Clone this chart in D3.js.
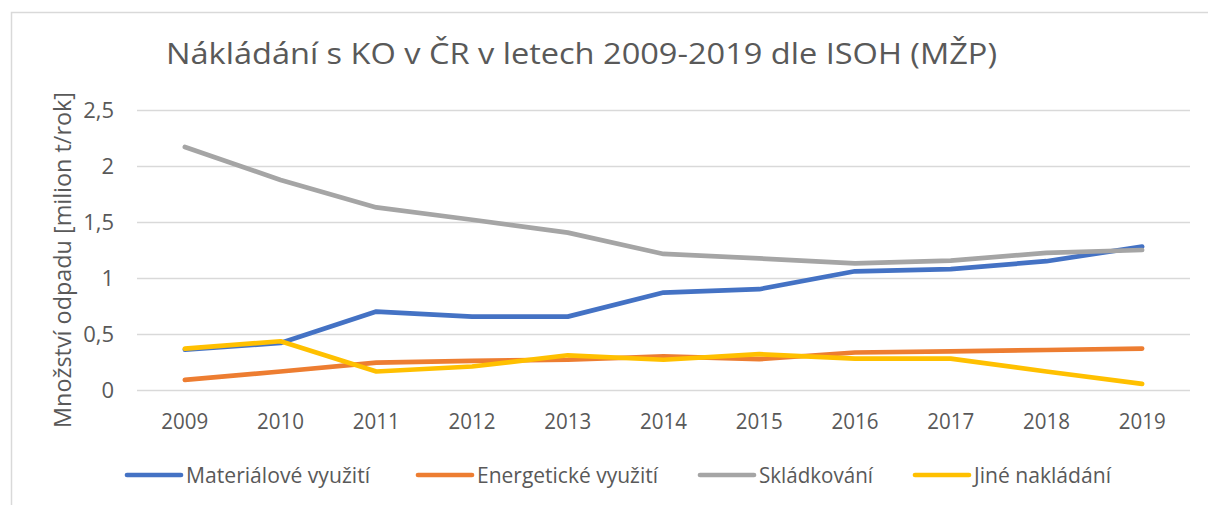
<!DOCTYPE html>
<html>
<head>
<meta charset="utf-8">
<script src="https://cdn.jsdelivr.net/npm/d3@7"></script>
<style>
  html, body { margin: 0; padding: 0; background: #fff; }
  svg { display: block; }
  text { font-family: "Open Sans", "Noto Sans", sans-serif; fill: #595959; }
</style>
</head>
<body>
<div id="chart"></div>
<script>
// data (million t / year)
const years = ['2009', '2010', '2011', '2012', '2013', '2014', '2015', '2016', '2017', '2018', '2019'];
const material = [0.36, 0.42, 0.70, 0.655, 0.655, 0.87, 0.90, 1.06, 1.08, 1.15, 1.28];
const energy = [0.09, 0.165, 0.245, 0.26, 0.27, 0.30, 0.275, 0.335, 0.345, 0.357, 0.37];
const landfill = [2.17, 1.875, 1.63, 1.52, 1.405, 1.215, 1.175, 1.13, 1.155, 1.225, 1.25];
const other = [0.37, 0.435, 0.165, 0.21, 0.31, 0.27, 0.32, 0.28, 0.28, 0.165, 0.055];

const seriesNames = ['Materiálové využití', 'Energetické využití', 'Skládkování', 'Jiné nakládání'];
const seriesColors = ['#4472C4', '#ED7D31', '#A5A5A5', '#FFC000'];
const yTicks = [0, 0.5, 1, 1.5, 2, 2.5];

const titleText = 'Nákládání s KO v ČR v letech 2009-2019 dle ISOH (MŽP)';
const yTitleText = 'Množství odpadu [milion t/rok]';

function drawChart() {
  const width = 1208;
  const height = 505;
  const plot = { left: 137, right: 1190, top: 110, bottom: 390 };

  const series = [material, energy, landfill, other].map((vals, i) => ({
    name: seriesNames[i],
    color: seriesColors[i],
    values: vals.map((v, j) => ({ year: years[j], value: v }))
  }));

  const czLocale = d3.formatLocale({ decimal: ',', thousands: ' ', grouping: [3], currency: ['', ' Kč'] });
  const fmt = czLocale.format('~g');

  // bring a text to the width it has in the reference (Calibri metrics differ)
  function fit(sel, w) {
    sel.each(function () {
      d3.select(this).attr('textLength', w).attr('lengthAdjust', 'spacingAndGlyphs');
    });
  }

  const svg = d3.select('#chart')
    .append('svg')
    .attr('width', width)
    .attr('height', height);

  // chart area border
  svg.append('rect')
    .attr('x', 11.5)
    .attr('y', 12.5)
    .attr('width', width + 20)
    .attr('height', height + 20)
    .attr('fill', '#fff')
    .attr('stroke', '#D9D9D9')
    .attr('stroke-width', 1.5);

  const x = d3.scaleBand()
    .domain(years)
    .range([plot.left, plot.right]);

  const y = d3.scaleLinear()
    .domain([0, 2.5])
    .range([plot.bottom, plot.top]);

  // title
  svg.append('text')
    .attr('x', 166)
    .attr('y', 64)
    .style('font-size', '30px')
    .text(titleText)
    .call(fit, 831);

  // y axis with gridlines
  const yAxis = svg.append('g')
    .attr('transform', `translate(${plot.left},0)`)
    .call(d3.axisLeft(y)
      .tickValues(yTicks)
      .tickFormat(fmt)
      .tickSizeInner(-(plot.right - plot.left))
      .tickSizeOuter(0)
      .tickPadding(23));
  yAxis.select('.domain').remove();
  yAxis.selectAll('.tick line')
    .attr('stroke', '#D9D9D9')
    .attr('stroke-width', 1.5);
  yAxis.selectAll('.tick text')
    .style('font-family', '"Open Sans", sans-serif')
    .style('font-size', '22px')
    .attr('fill', '#595959');

  // x axis
  const xAxis = svg.append('g')
    .attr('transform', `translate(0,${plot.bottom})`)
    .call(d3.axisBottom(x).tickSize(0).tickPadding(23));
  xAxis.select('.domain').remove();
  xAxis.selectAll('.tick text')
    .style('font-family', '"Open Sans", sans-serif')
    .style('font-size', '22px')
    .attr('fill', '#595959')
    .call(fit, 47);

  // y axis title
  svg.append('text')
    .attr('transform', 'translate(71,260) rotate(-90)')
    .attr('text-anchor', 'middle')
    .style('font-size', '23px')
    .text(yTitleText)
    .call(fit, 336);

  // lines
  const line = d3.line()
    .x(d => x(d.year) + x.bandwidth() / 2)
    .y(d => y(d.value));

  svg.append('g')
    .selectAll('path')
    .data(series)
    .join('path')
    .attr('d', d => line(d.values))
    .attr('fill', 'none')
    .attr('stroke', d => d.color)
    .attr('stroke-width', 4.7)
    .attr('stroke-linecap', 'round')
    .attr('stroke-linejoin', 'round');

  // legend
  const legendX = [127, 418, 700, 915];
  const legendW = [184, 181, 114, 137];
  const legend = svg.append('g')
    .selectAll('g')
    .data(series)
    .join('g')
    .attr('transform', (d, i) => `translate(${legendX[i]},475)`);

  legend.append('line')
    .attr('x1', 0)
    .attr('x2', 54)
    .attr('stroke', d => d.color)
    .attr('stroke-width', 4.7)
    .attr('stroke-linecap', 'round');

  legend.append('text')
    .attr('x', 59)
    .attr('y', 8)
    .style('font-size', '22px')
    .text(d => d.name)
    .each(function (d, i) { fit(d3.select(this), legendW[i]); });
}

window.onload = function () {
  drawChart();
};
</script>
</body>
</html>
